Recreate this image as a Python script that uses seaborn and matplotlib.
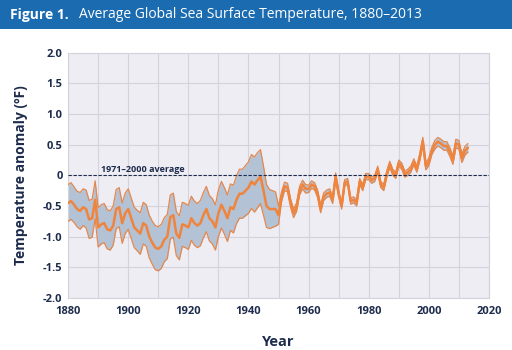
import numpy as np
import pandas as pd
import matplotlib
matplotlib.use("Agg")
import matplotlib.pyplot as plt
import seaborn as sns

# annual anomaly (deg F, vs 1971-2000)
years = list(range(1880, 2014))
anomaly = [
    -0.45, -0.42, -0.48, -0.55, -0.58, -0.52, -0.55, -0.72, -0.70, -0.40,  # 1880s
    -0.85, -0.80, -0.78, -0.88, -0.90, -0.82, -0.55, -0.52, -0.78, -0.62,  # 1890s
    -0.55, -0.70, -0.85, -0.90, -0.95, -0.78, -0.82, -1.00, -1.10, -1.18,  # 1900s
    -1.20, -1.16, -1.05, -1.00, -0.68, -0.65, -0.95, -1.02, -0.80, -0.82,  # 1910s
    -0.85, -0.70, -0.78, -0.82, -0.78, -0.65, -0.55, -0.70, -0.75, -0.85,  # 1920s
    -0.62, -0.48, -0.58, -0.70, -0.52, -0.55, -0.40, -0.30, -0.30, -0.25,  # 1930s
    -0.20, -0.10, -0.15, -0.08, -0.02, -0.25, -0.50, -0.55, -0.55, -0.55,  # 1940s
    -0.65, -0.35, -0.18, -0.20, -0.45, -0.62, -0.52, -0.25, -0.15, -0.22,  # 1950s
    -0.22, -0.15, -0.18, -0.30, -0.55, -0.35, -0.30, -0.28, -0.40, -0.02,  # 1960s
    -0.30, -0.50, -0.12, -0.10, -0.42, -0.40, -0.45, -0.10, -0.20, -0.02,  # 1970s
    -0.02, -0.08, -0.05, 0.10, -0.15, -0.20, 0.02, 0.18, 0.05, 0.00,       # 1980s
    0.20, 0.15, 0.02, 0.05, 0.10, 0.22, 0.10, 0.30, 0.56, 0.15,            # 1990s
    0.22, 0.40, 0.50, 0.55, 0.52, 0.48, 0.48, 0.38, 0.25, 0.52,            # 2000s
    0.50, 0.28, 0.40, 0.45,                                                # 2010-2013
]
# half width of the uncertainty band
margin = [
    0.30, 0.30, 0.29, 0.29, 0.30, 0.30, 0.31, 0.31, 0.31, 0.31,
    0.32, 0.32, 0.32, 0.32, 0.32, 0.32, 0.32, 0.32, 0.33, 0.33,
    0.33, 0.33, 0.33, 0.33, 0.34, 0.34, 0.34, 0.35, 0.35, 0.36,
    0.36, 0.36, 0.36, 0.36, 0.36, 0.36, 0.36, 0.36, 0.36, 0.36,
    0.36, 0.36, 0.36, 0.36, 0.37, 0.37, 0.37, 0.37, 0.37, 0.37,
    0.38, 0.38, 0.38, 0.38, 0.38, 0.39, 0.39, 0.40, 0.40, 0.41,
    0.42, 0.44, 0.45, 0.45, 0.44, 0.40, 0.35, 0.32, 0.30, 0.28,
    0.15, 0.08, 0.07, 0.07, 0.07, 0.07, 0.07, 0.07, 0.07, 0.07,
    0.06, 0.06, 0.06, 0.06, 0.06, 0.06, 0.06, 0.06, 0.06, 0.06,
    0.05, 0.05, 0.05, 0.05, 0.05, 0.05, 0.05, 0.05, 0.05, 0.05,
    0.05, 0.05, 0.05, 0.05, 0.05, 0.05, 0.05, 0.05, 0.05, 0.05,
    0.05, 0.05, 0.05, 0.05, 0.05, 0.05, 0.05, 0.06, 0.06, 0.06,
    0.06, 0.06, 0.07, 0.07, 0.07, 0.07, 0.07, 0.07, 0.07, 0.07,
    0.07, 0.07, 0.07, 0.07,
]
x_ticks = [1880, 1900, 1920, 1940, 1960, 1980, 2000, 2020]
y_ticks = [2.0, 1.5, 1.0, 0.5, 0, -0.5, -1.0, -1.5, -2.0]
y_tick_labels = ["2.0", "1.5", "1.0", "0.5", "0", "-0.5", "-1.0", "-1.5", "-2.0"]

df = pd.DataFrame({"year": years, "anomaly": anomaly, "margin": margin})
df["lower"] = df["anomaly"] - df["margin"]
df["upper"] = df["anomaly"] + df["margin"]

navy = "#1d2c4c"
orange = "#f0843c"

sns.set_style("whitegrid", {
    "axes.facecolor": "#efedf4",
    "grid.color": "#d4d2da",
    "axes.edgecolor": "#d4d2da",
})
plt.rcParams["font.family"] = ["Open Sans", "DejaVu Sans"]

fig = plt.figure(figsize=(5.12, 3.5), dpi=100)
ax = fig.add_axes([0.133, 0.149, 0.822, 0.70])

# title bar
fig.patches.append(plt.Rectangle((0, 0.917), 1, 0.083, transform=fig.transFigure,
                                 facecolor="#1b6bb0", edgecolor="none"))
fig.text(0.02, 0.958, "Figure 1.", color="white", fontsize=10, fontweight="bold", va="center")
fig.text(0.155, 0.958, "Average Global Sea Surface Temperature, 1880\u20132013",
         color="white", fontsize=10, va="center")

ax.fill_between(df["year"], df["lower"], df["upper"], color="#b3c2d5", lw=0, zorder=2)
sns.lineplot(data=df, x="year", y="lower", ax=ax, color="#e3884e", lw=0.9, zorder=3)
sns.lineplot(data=df, x="year", y="upper", ax=ax, color="#e3884e", lw=0.9, zorder=3)
sns.lineplot(data=df, x="year", y="anomaly", ax=ax, color=orange, lw=1.8, zorder=4)

ax.axhline(0, color=navy, lw=0.8, ls=(0, (3, 1.5)), zorder=5)
ax.text(1891, 0.03, "1971\u20132000 average", color=navy, fontsize=6.5,
        fontweight="bold", va="bottom")

ax.set_xlim(1880, 2020)
ax.set_ylim(-2.0, 2.0)
ax.set_xticks(x_ticks)
ax.set_xticks(range(1890, 2020, 20), minor=True)
ax.set_yticks(y_ticks)
ax.set_yticklabels(y_tick_labels)
ax.grid(True, which="both", color="#d4d2da", lw=0.8)
ax.tick_params(which="both", length=0, colors=navy, labelsize=8)
ax.tick_params(axis="x", pad=6)
ax.tick_params(axis="y", pad=4)
for lab in ax.get_xticklabels() + ax.get_yticklabels():
    lab.set_fontweight("bold")

ax.set_xlabel("Year", color=navy, fontsize=10.5, fontweight="bold", labelpad=13)
ax.set_ylabel("Temperature anomaly (\u00baF)", color=navy, fontsize=10,
              fontweight="bold", labelpad=11)
for s in ax.spines.values():
    s.set_color("#d4d2da")
    s.set_linewidth(0.8)

fig.savefig("out.png", dpi=100)
